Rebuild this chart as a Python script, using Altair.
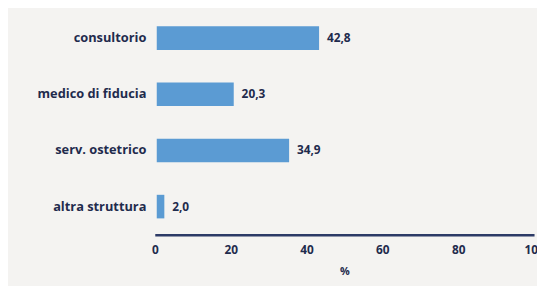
import altair as alt
import pandas as pd

categories = ["consultorio", "medico di fiducia", "serv. ostetrico", "altra struttura"]
values = [42.8, 20.3, 34.9, 2.0]
labels = ["42,8", "20,3", "34,9", "2,0"]
x_ticks = [0, 20, 40, 60, 80, 100]

df = pd.DataFrame({"cat": categories, "val": values, "lab": labels})

NAVY = "#1f2b4d"
FONT = "Open Sans"

y_enc = alt.Y("cat:N", sort=categories, title=None,
              scale=alt.Scale(paddingInner=0.58, paddingOuter=0.29),
              axis=alt.Axis(domain=False, ticks=False, labelPadding=9,
                            labelFont=FONT, labelFontWeight="bold",
                            labelFontSize=13, labelColor=NAVY))

x_enc = alt.X("val:Q", title="%",
              scale=alt.Scale(domain=[0, 100], nice=False),
              axis=alt.Axis(values=x_ticks, grid=False, ticks=False,
                            domainColor="#2c3a66", domainWidth=2.5,
                            labelPadding=10, labelFont=FONT,
                            labelFontWeight="bold", labelFontSize=12,
                            labelColor=NAVY, labelFlush=False,
                            titleFont=FONT, titleFontWeight="bold",
                            titleFontSize=11, titleColor=NAVY,
                            titlePadding=10))

bars = alt.Chart(df).mark_bar(color="#5b9bd3", xOffset=2).encode(x=x_enc, y=y_enc)

text = alt.Chart(df).mark_text(align="left", baseline="middle", dx=10,
                               font=FONT, fontWeight="bold", fontSize=12,
                               color=NAVY).encode(
    x=alt.X("val:Q"), y=alt.Y("cat:N", sort=categories), text="lab:N")

chart = (bars + text).properties(
    width=385, height=228,
    background="#f4f3f1",
    padding={"left": 149, "top": 0, "right": 3, "bottom": 50},
    autosize=alt.AutoSizeParams(type="none"),
).configure_view(stroke=None)

chart.save("out.html", embed_options={"renderer": "svg", "actions": False})
